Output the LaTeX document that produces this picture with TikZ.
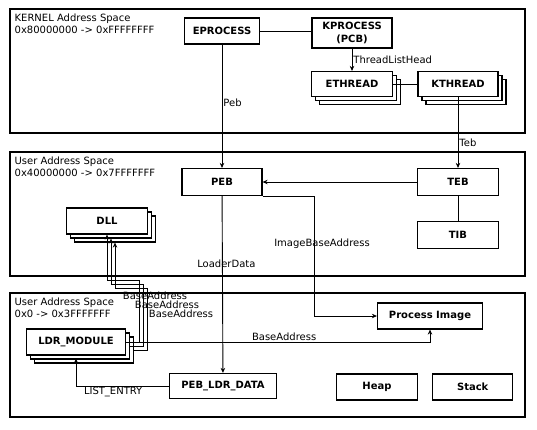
\documentclass[tikz,border=0pt]{standalone}
\usepackage{fontspec}
\setmainfont{DejaVu Sans}
\usepackage{tikz}
\usetikzlibrary{arrows.meta,positioning,calc,shadows}

\begin{document}
\begin{tikzpicture}[
        x=1pt, y=-1pt,
        region/.style={draw, line width=1.1pt, minimum width=515pt, minimum height=124pt, inner sep=0pt},
        spacelbl/.style={anchor=north west, align=left, inner sep=2pt, font=\fontsize{10}{12.5}\selectfont},
        box/.style={draw, fill=white, line width=1.2pt, align=center, inner sep=0pt, minimum width=81pt, minimum height=26pt, font=\fontsize{10}{13}\selectfont\bfseries},
        stackbox/.style={box, double copy shadow={shadow xshift=4pt, shadow yshift=-4pt}},
        lbl/.style={inner sep=1pt, font=\fontsize{10}{12}\selectfont},
        line/.style={line width=0.9pt},
        arr/.style={line, -{Stealth[length=5pt, width=4.5pt]}}
    ]
        \useasboundingbox (0,0) rectangle (537,429);

        % address spaces
        \node[region] (kernel) at (267.5,71) {};
        \node[region] (user) at (267.5,214) {};
        \node[region] (low) at (267.5,355) {};
        \node[spacelbl] (kernelLbl) at ($(kernel.north west)+(3,3)$) {KERNEL Address Space\\0x80000000 -> 0xFFFFFFFF};
        \node[spacelbl] (userLbl) at ($(user.north west)+(3,3)$) {User Address Space\\0x40000000 -> 0x7FFFFFFF};
        \node[spacelbl] (lowLbl) at ($(low.north west)+(3,3)$) {User Address Space\\0x0 -> 0x3FFFFFFF};

        % kernel objects
        \node[box, minimum width=75pt] (eproc) at (222,31) {EPROCESS};
        \node[box, minimum width=80pt, minimum height=30pt] (kproc) at (352,33) {KPROCESS\\(PCB)};
        \node[stackbox, minimum height=25pt] (ethread) at (352,84) {ETHREAD};
        \node[stackbox, minimum width=80pt, minimum height=25pt] (kthread) at (458,84) {KTHREAD};

        % user objects
        \node[box, minimum width=80pt, minimum height=27pt] (peb) at (222,182) {PEB};
        \node[box, minimum height=27pt] (teb) at (458,182) {TEB};
        \node[box, minimum height=27pt, below=25pt of teb] (tib) {TIB};
        \node[stackbox] (dll) at (107,221) {DLL};

        \node[stackbox, minimum width=99pt] (ldrmod) at (76,342) {LDR\_MODULE};
        \node[box, minimum width=107pt, minimum height=25pt] (ldrdata) at (223,386) {PEB\_LDR\_DATA};
        \node[box, minimum width=105pt] (procimg) at (430,316) {Process Image};
        \node[box] (heap) at (377,387) {Heap};
        \node[box, minimum width=80pt, right=14pt of heap] (stack) {Stack};

        \coordinate (ibx) at (314,0);

        \draw[line] (eproc.east) -- (eproc.east -| kproc.west);
        \draw[arr] (kproc) -- (ethread) node[lbl, midway, right] (tlh) {ThreadListHead};
        \draw[line] (ethread.east) -- (kthread.west);
        \draw[arr] (kthread) -- (teb) node[lbl, pos=0.64, right] (tebLbl) {Teb};
        \draw[arr] (eproc.south -| peb) -- (peb) node[lbl, pos=0.47, right] (pebLbl) {Peb};
        \draw[arr] (teb) -- (peb);
        \draw[line] (teb) -- (tib);
        \draw[arr] (peb.south east) -- (peb.south east -| ibx) |- (procimg.west);
        \node[lbl] (ibaLbl) at (322,244) {ImageBaseAddress};
        \draw[arr] (peb) -- (ldrdata) node[lbl, pos=0.38, xshift=4pt] (ldLbl) {LoaderData};
        \draw[arr] (ldrdata.west) -| ([yshift=-3pt]ldrmod.south) node[lbl, pos=0.3, below] (leLbl) {LIST\_ENTRY};
        \draw[arr] (ldrmod.east) -| (procimg.south) node[lbl, pos=0.26, above] (baLbl) {BaseAddress};

        % module -> dll links
        \draw[arr] (ldrmod.east) -| ++(13,-62) -| (dll.south);
        \draw[arr] ([shift={(4pt,-4pt)}]ldrmod.east) -| ++(13,-62) -| ([shift={(4pt,-4pt)}]dll.south);
        \draw[arr] ([shift={(8pt,-8pt)}]ldrmod.east) -| ++(13,-62) -| ([shift={(8pt,-8pt)}]dll.south);
        \node[lbl] (ba1) at (155,296) {BaseAddress};
        \node[lbl] (ba2) at (167,305) {BaseAddress};
        \node[lbl] (ba3) at (181,314) {BaseAddress};
    \end{tikzpicture}
\end{document}
